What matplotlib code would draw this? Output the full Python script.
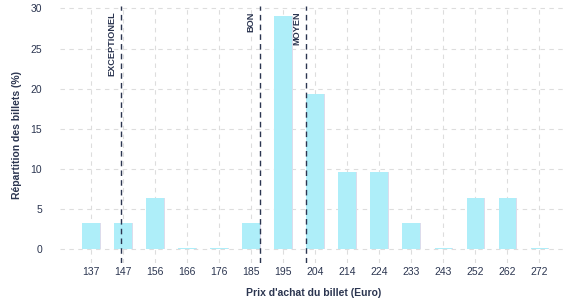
import matplotlib
matplotlib.use("Agg")
import matplotlib.pyplot as plt
import numpy as np

plt.rcParams['font.family'] = ['Liberation Sans', 'DejaVu Sans']

# prix (categories) et repartition des billets (%)
prix = ["137", "147", "156", "166", "176", "185", "195", "204",
        "214", "224", "233", "243", "252", "262", "272"]
repartition = [3.23, 3.23, 6.45, 0.15, 0.15, 3.23, 29.03, 19.35,
               9.68, 9.68, 3.23, 0.15, 6.45, 6.45, 0.15]

# seuils (position sur l'axe des categories)
seuils = ["EXCEPTIONEL", "BON", "MOYEN"]
seuils_pos = [0.92, 5.26, 6.70]

texte = "#2b3550"
fig, ax = plt.subplots(figsize=(5.77, 3.0), dpi=100)
fig.subplots_adjust(left=0.104, right=0.982, top=0.98, bottom=0.123)

x = np.arange(len(prix))
# petite ombre a droite des barres
ax.bar(x + 0.04, repartition, width=0.55, color="#dcdcec", zorder=2)
ax.bar(x, repartition, width=0.55, color="#aeeef9", zorder=3)

for nom, pos in zip(seuils, seuils_pos):
    ax.axvline(pos, color=texte, linestyle=(0, (4, 3)), linewidth=1.0, zorder=4)
    ax.text(pos - 0.12, 29.6, nom, rotation=90, ha="right", va="top",
            fontsize=6.6, fontweight="bold", color=texte)

ax.set_xticks(x)
ax.set_xticklabels(prix)
ax.set_yticks([0, 5, 10, 15, 20, 25, 30])
ax.set_xlim(-0.97, 14.85)
ax.set_ylim(-1.7, 30.3)

ax.grid(True, color="#dddddd", linestyle=(0, (4, 4)), linewidth=0.8, zorder=0)
ax.set_axisbelow(True)
for s in ax.spines.values():
    s.set_visible(False)
ax.tick_params(length=0, labelsize=7.5, colors=texte)
ax.tick_params(axis="x", pad=3)
ax.tick_params(axis="y", pad=13)

ax.set_xlabel("Prix d'achat du billet (Euro)", fontsize=7.5, fontweight="bold", color=texte, labelpad=8)
ax.set_ylabel("Répartition des billets (%)", fontsize=7.5, fontweight="bold", color=texte, labelpad=6)

plt.savefig("out.png", dpi=100)
